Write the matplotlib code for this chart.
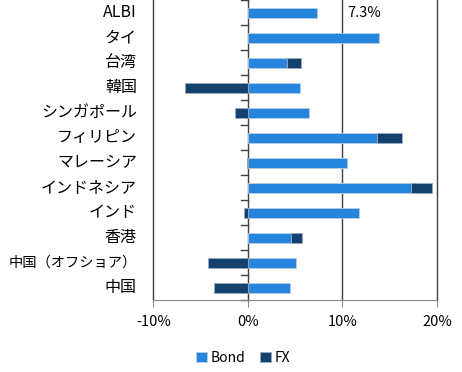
import numpy as np
import matplotlib.pyplot as plt

plt.rcParams['font.family'] = ['Noto Sans CJK JP', 'DejaVu Sans']

categories = ['ALBI', 'タイ', '台湾', '韓国', 'シンガポール', 'フィリピン',
              'マレーシア', 'インドネシア', 'インド', '香港', '中国（オフショア）', '中国']
bond = [7.3, 13.9, 4.1, 5.5, 6.5, 13.7, 10.5, 17.2, 11.7, 4.6, 5.1, 4.4]
fx = [0.0, 0.0, 1.5, -6.7, -1.4, 2.6, -0.1, 2.3, -0.4, 1.1, -4.2, -3.6]
xticks = [-10, 0, 10, 20]

bond_color = '#2584DB'
fx_color = '#14416E'

fig = plt.figure(figsize=(4.62, 3.72), dpi=100)
ax = fig.add_axes([0.332, 0.1935, 0.614, 0.8065])

y = np.arange(len(categories))
bond = np.array(bond)
fx = np.array(fx)
fx_left = np.where(fx > 0, bond, 0)

ax.barh(y, bond, height=0.4, color=bond_color, edgecolor='#b8cde6', linewidth=0.6,
        label='Bond', zorder=3)
ax.barh(y, fx, left=fx_left, height=0.4, color=fx_color, edgecolor='#9aa8bb',
        linewidth=0.6, label='FX', zorder=3)

ax.set_xlim(-10, 20)
ax.set_ylim(len(categories) - 0.5, -0.5)

# vertical grid lines
for v in [-10, 10, 20]:
    ax.axvline(v, color='#404040', linewidth=1.0, zorder=1, clip_on=False)

for s in ['top', 'right', 'left']:
    ax.spines[s].set_visible(False)
ax.spines['bottom'].set_color('#888888')
ax.spines['bottom'].set_zorder(4)

ax.set_xticks(xticks)
ax.set_xticklabels([f'{t}%' for t in xticks], fontsize=10.5)
ax.tick_params(axis='x', length=5, color='#888888', pad=6)

# y axis at zero with ticks between categories
ax.axvline(0, color='#404040', linewidth=1.0, zorder=2)
ax.set_yticks([])
for b in np.arange(len(categories) + 1) - 0.5:
    ax.plot([-0.7, 0], [b, b], color='#404040', linewidth=1.0, zorder=2, clip_on=False)

trans = ax.get_yaxis_transform()
for yi, name in zip(y, categories):
    fs = 10.3 if len(name) > 7 else 11.5
    ax.text(-0.058, yi, name, transform=trans, ha='right', va='center', fontsize=fs)

ax.text(10.5, 0, '7.3%', ha='left', va='center', fontsize=10.5)

fig.legend(loc='center', bbox_to_anchor=(243 / 462, 1 - 358 / 372), ncol=2,
           frameon=False, fontsize=10, handlelength=0.8, handleheight=0.8,
           handletextpad=0.3, columnspacing=1.0)

fig.savefig('out.png', dpi=100)
